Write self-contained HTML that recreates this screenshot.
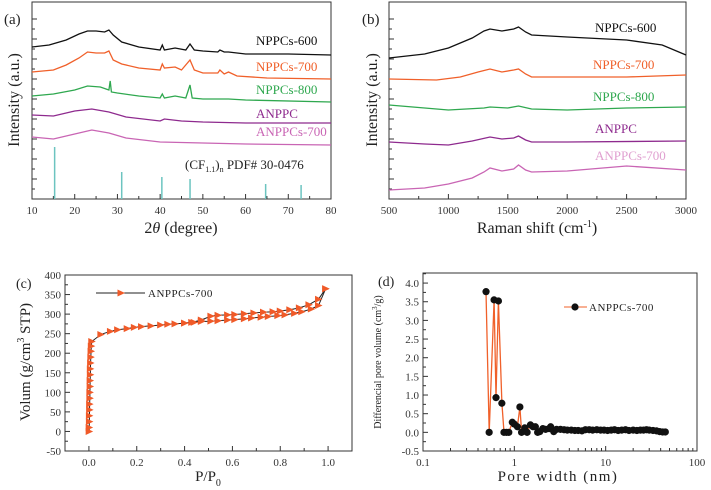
<!DOCTYPE html>
<html><head><meta charset="utf-8">
<style>
body{margin:0;background:#fff;}
svg{display:block;}
svg text{font-family:"Liberation Serif","Times New Roman",serif;}
</style></head>
<body>
<svg id="fig" width="711" height="490" viewBox="0 0 711 490" xmlns="http://www.w3.org/2000/svg" font-family="Liberation Serif, serif"></svg>
<script>
// ---------- Panel (a) XRD data ----------
const xrdTwoTheta600=[10,14,18,21,23,25,27,28,29,31,35,40,40.5,41,43.5,46,47,48,50,53.5,54,55,56,60,70,80];
const xrd600=[152,154,159,165,168,168,167,169,164,157,152,149,154,149,151,149,155,149,148,147,149,147,147,145,145,144];
const xrdTwoTheta700=[10,15,18,21,23,25,27,28,29,31,35,40,40.5,41,43.5,45,47,48,50,53.5,54,55,56,58,65,80];
const xrd700=[127,129,134,141,147,146,146,148,139,135,131,129,135,131,132,129,139,129,126,126,129,125,127,123,121,120];
const xrdTwoTheta800=[10,15,20,23,26,28,28.3,28.6,30,35,40,40.5,41,43.5,46,47,47.5,50,56,60,80];
const xrd800=[103,105,109,113,112,109,118,107,106,103,101,105,101,103,101,114,101,100,100,99,97];
const xrdTwoThetaA=[10,15,20,24,28,32,40,41,45,50,60,80];
const xrdA=[84,83,88,90,87,82,78,80,78,77,76,76];
const xrdTwoThetaA7=[10,15,20,24,28,32,40,50,60,80];
const xrdA7=[62,60,65,69,66,61,57,56,55,54];
const pdfPos=[15.3,31,40.4,47,64.7,73];
const pdfInt=[52,27,22,20,15,14];
const xTicksA=[10,20,30,40,50,60,70,80];

// ---------- Panel (b) Raman data ----------
const ramanX600=[500,800,1000,1200,1300,1350,1450,1550,1590,1650,1700,2000,2500,2800,3000];
const raman600=[141,145,151,161,168,170,168,170,172,167,164,162,159,154,144];
const ramanX700=[500,900,1100,1250,1350,1450,1550,1590,1650,1700,2000,2500,3000];
const raman700=[120,119,122,127,130,127,129,130,125,122,122,122,124];
const ramanX800=[500,700,1000,1300,1350,1500,1590,1700,2000,2500,3000];
const raman800=[94,92,89,91,92,91,93,90,89,91,92];
const ramanXA=[500,800,1000,1200,1350,1450,1550,1590,1650,1700,2000,3000];
const ramanA=[57,55,54,58,62,60,61,63,59,57,57,58];
const ramanXA7=[500,800,1000,1200,1300,1350,1450,1550,1590,1650,1700,2000,2500,3000];
const ramanA7=[9,11,15,21,27,31,28,30,34,29,27,28,33,29];
const xTicksB=[500,1000,1500,2000,2500,3000];

// ---------- Panel (c) isotherm ----------
const adsP=[0.001,0.001,0.002,0.002,0.003,0.003,0.004,0.004,0.005,0.005,0.006,0.006,0.007,0.008,0.009,0.01,0.012,0.05,0.09,0.12,0.16,0.19,0.22,0.26,0.30,0.33,0.36,0.40,0.44,0.47,0.51,0.54,0.58,0.61,0.65,0.68,0.72,0.75,0.79,0.82,0.86,0.89,0.93,0.96,0.99];
const adsV=[0,10,25,40,55,70,85,100,115,130,145,160,175,190,205,218,230,248,256,260,263,266,268,270,272,274,275,277,279,281,282,283,285,286,288,290,292,294,296,298,302,306,313,322,365];
const desP=[0.99,0.96,0.92,0.88,0.84,0.80,0.77,0.73,0.69,0.65,0.61,0.58,0.54,0.51,0.47,0.43,0.40];
const desV=[365,338,324,316,311,308,306,305,303,301,299,298,297,295,285,279,277];
const xTicksC=[0,0.2,0.4,0.6,0.8,1.0];
const yTicksC=[-50,0,50,100,150,200,250,300,350,400];

// ---------- Panel (d) pore size ----------
const poreW=[0.49,0.53,0.6,0.63,0.67,0.73,0.77,0.82,0.87,0.95,1.0,1.08,1.15,1.2,1.3,1.38,1.5,1.6,1.7,1.8,1.9,2.05,2.2,2.4,2.5,2.7,2.9,3.2,3.5,3.8,4.2,4.6,5,5.5,6,6.6,7.2,8,8.8,9.6,10.5,11.5,12.5,13.7,15,16.5,18,20,22,24,26,28,30,33,36,39,42,45];
const poreV=[3.77,0,3.55,0.93,3.52,0.78,0,0,0,0.27,0.22,0.15,0.68,0,0.12,0,0.2,0.15,0.15,0,0.02,0.1,0.08,0.1,0.15,0.02,0.08,0.08,0.07,0.06,0.06,0.05,0.05,0.04,0.07,0.07,0.06,0.07,0.06,0.06,0.05,0.06,0.07,0.05,0.06,0.07,0.05,0.06,0.05,0.06,0.06,0.07,0.06,0.05,0.04,0.02,0.01,0.01];
const xTicksD=[0.1,1,10,100];
const yTicksD=[-0.5,0,0.5,1,1.5,2,2.5,3,3.5,4];

const NS="http://www.w3.org/2000/svg";
const FONT='Liberation Serif, serif';
const svg=document.getElementById('fig');
function el(tag,attrs,parent,text){const e=document.createElementNS(NS,tag);for(const k in attrs)e.setAttribute(k,attrs[k]);if(tag==='text')e.setAttribute('font-family',FONT);if(text!==undefined)e.textContent=text;(parent||svg).appendChild(e);return e;}
function lin(d0,d1,r0,r1){return v=>r0+(v-d0)*(r1-r0)/(d1-d0);}
function logs(d0,d1,r0,r1){return v=>r0+(Math.log10(v)-Math.log10(d0))*(r1-r0)/(Math.log10(d1)-Math.log10(d0));}
function pathD(xs,ys,fx,fy){return xs.map((x,i)=>(i?'L':'M')+fx(x).toFixed(1)+','+fy(ys[i]).toFixed(1)).join('');}

function frame(g,L,R,T,B){
  const f=el('rect',{x:L,y:T,width:R-L,height:B-T,fill:'none',stroke:'#333','stroke-width':1},g);
  
  
}
function xTickMarks(g,ticks,fx,B,labels,minors){
  ticks.forEach((t,i)=>{
    const x=fx(t);
    const l=el('line',{x1:x,x2:x,y1:B,y2:B-5,stroke:'#333'},g);
    
    
    if(labels){const tx=el('text',{x:x,y:B+15,'font-size':11,'text-anchor':'middle',fill:'#333'},g,labels[i]);
      
      }
  });
  (minors||[]).forEach(t=>{const x=fx(t);el('line',{x1:x,x2:x,y1:B,y2:B-3,stroke:'#333'},g);});
}
function yTickMarks(g,ticks,fy,L,labels,minors){
  ticks.forEach((t,i)=>{
    const y=fy(t);
    const l=el('line',{x1:L,x2:L+5,y1:y,y2:y,stroke:'#333'},g);
    
    
    if(labels){const tx=el('text',{x:L-4,y:y+4,'font-size':11,'text-anchor':'end',fill:'#333'},g,labels[i]);
      
      }
  });
  (minors||[]).forEach(t=>{const y=fy(t);el('line',{x1:L,x2:L+3,y1:y,y2:y,stroke:'#333'},g);});
}
function series(g,xs,ys,fx,fy,color,name){
  const p=el('path',{d:pathD(xs,ys,fx,fy),fill:'none',stroke:color,'stroke-width':1.3},g);
  
  
}
function label(g,x,y,txt,color,size,name,anchor){
  const t=el('text',{x:x,y:y,'font-size':size,fill:color,'text-anchor':anchor||'start'},g,txt);
  
  
  return t;
}

// ===== Panel A =====
(function(){
  const g=el('g',{});
  
  
  const L=32,R=331,T=2,B=199;
  const fx=lin(10,80,L,R), fy=lin(0,197,B,T);
  frame(g,L,R,T,B);
  const minors=[];for(let v=15;v<80;v+=10)minors.push(v);
  xTickMarks(g,xTicksA,fx,B,xTicksA.map(String),minors);
  const yt=[];for(let v=20;v<197;v+=20)yt.push(v);
  yTickMarks(g,yt,fy,L,null,yt.map(v=>v-10));
  pdfPos.forEach((p,i)=>{const s=el('line',{x1:fx(p),x2:fx(p),y1:B,y2:fy(pdfInt[i]),stroke:'#6cc4c0','stroke-width':1.5},g);
    
    });
  series(g,xrdTwoTheta600,xrd600,fx,fy,'#111','series-nppcs-600');
  series(g,xrdTwoTheta700,xrd700,fx,fy,'#f0602a','series-nppcs-700');
  series(g,xrdTwoTheta800,xrd800,fx,fy,'#2fa84f','series-nppcs-800');
  series(g,xrdTwoThetaA,xrdA,fx,fy,'#8e2a8e','series-anppc');
  series(g,xrdTwoThetaA7,xrdA7,fx,fy,'#c965b4','series-anppcs-700');
  label(g,256,45,'NPPCs-600','#111',13,'legend-nppcs-600');
  label(g,256,71,'NPPCs-700','#f0602a',13,'legend-nppcs-700');
  label(g,256,94,'NPPCs-800','#2fa84f',13,'legend-nppcs-800');
  label(g,256,118,'ANPPC','#8e2a8e',13,'legend-anppc');
  label(g,256,136,'ANPPCs-700','#c965b4',13,'legend-anppcs-700');
  const t=label(g,185,169,'','#222',13,'pdf-label');
  t.innerHTML='(CF<tspan font-size="8" dy="3">1.1</tspan><tspan dy="-3">)</tspan><tspan font-size="8" dy="3">n</tspan><tspan dy="-3">  PDF# 30-0476</tspan>';
  label(g,4,24,'(a)','#222',15,'panel-label-a');
  const xt=label(g,181,233,'','#222',16,'x-axis-title-a','middle');
  xt.innerHTML='2<tspan font-style="italic">θ</tspan> (degree)';
  const yl=label(g,0,0,'Intensity (a.u.)','#222',16,'y-axis-title-a','middle');
  yl.setAttribute('transform','translate(19,100) rotate(-90)');
})();

// ===== Panel B =====
(function(){
  const g=el('g',{});
  
  
  const L=389,R=686,T=2,B=199;
  const fx=lin(500,3000,L,R), fy=lin(0,197,B,T);
  frame(g,L,R,T,B);
  const minors=[];for(let v=750;v<3000;v+=500)minors.push(v);
  xTickMarks(g,xTicksB,fx,B,xTicksB.map(String),minors);
  const yt=[];for(let v=20;v<197;v+=20)yt.push(v);
  yTickMarks(g,yt,fy,L,null,yt.map(v=>v-10));
  series(g,ramanX600,raman600,fx,fy,'#111','series-nppcs-600');
  series(g,ramanX700,raman700,fx,fy,'#f0602a','series-nppcs-700');
  series(g,ramanX800,raman800,fx,fy,'#2fa84f','series-nppcs-800');
  series(g,ramanXA,ramanA,fx,fy,'#8e2a8e','series-anppc');
  series(g,ramanXA7,ramanA7,fx,fy,'#c965b4','series-anppcs-700');
  label(g,595,32,'NPPCs-600','#111',13,'legend-nppcs-600');
  label(g,593,69,'NPPCs-700','#f0602a',13,'legend-nppcs-700');
  label(g,593,101,'NPPCs-800','#2fa84f',13,'legend-nppcs-800');
  label(g,595,133,'ANPPC','#8e2a8e',13,'legend-anppc');
  label(g,595,160,'ANPPCs-700','#e0a0d0',13,'legend-anppcs-700');
  label(g,362,24,'(b)','#222',15,'panel-label-b');
  const xt=label(g,537,233,'','#222',16,'x-axis-title-b','middle');
  xt.innerHTML='Raman shift (cm<tspan font-size="10" dy="-6">-1</tspan><tspan dy="6">)</tspan>';
  const yl=label(g,0,0,'Intensity (a.u.)','#222',16,'y-axis-title-b','middle');
  yl.setAttribute('transform','translate(377,100) rotate(-90)');
})();

// ===== Panel C =====
(function(){
  const g=el('g',{});
  
  
  const L=65,R=352,T=275,B=451;
  const fx=lin(-0.1,1.1,L,R), fy=lin(-50,400,B,T);
  frame(g,L,R,T,B);
  xTickMarks(g,xTicksC,fx,B,xTicksC.map(v=>v.toFixed(1)),[-0.1,0.1,0.3,0.5,0.7,0.9,1.1]);
  yTickMarks(g,yTicksC,fy,L,yTicksC.map(String),yTicksC.slice(0,-1).map(v=>v+25));
  const c='#f05a28';
  const tri=(x,y)=>`M${x-3.5},${y-3.5}L${x+4},${y}L${x-3.5},${y+3.5}Z`;
  el('path',{d:pathD(adsP,adsV,fx,fy),fill:'none',stroke:'#222','stroke-width':1},g);
  el('path',{d:pathD(desP,desV,fx,fy),fill:'none',stroke:'#222','stroke-width':1},g);
  adsP.forEach((p,i)=>{const m=el('path',{d:tri(fx(p),fy(adsV[i])),fill:c},g);
    
    });
  desP.forEach((p,i)=>{const m=el('path',{d:tri(fx(p),fy(desV[i])),fill:c},g);
    
    });
  el('line',{x1:96,x2:145,y1:293,y2:293,stroke:'#222'},g);
  el('path',{d:tri(121,293),fill:c},g);
  label(g,148,297,'ANPPCs-700','#222',11,'legend-anppcs-700').setAttribute('letter-spacing','0.5');
  label(g,16,288,'(c)','#222',14,'panel-label-c');
  const xt=label(g,208,481,'','#222',15,'x-axis-title-c','middle');
  xt.innerHTML='P/P<tspan font-size="10" dy="5">0</tspan>';
  const yl=label(g,0,0,'','#222',15,'y-axis-title-c','middle');
  yl.innerHTML='Volum (g/cm<tspan font-size="10" dy="-6">3</tspan><tspan dy="6"> STP)</tspan>';
  yl.setAttribute('transform','translate(30,362) rotate(-90)');
})();

// ===== Panel D =====
(function(){
  const g=el('g',{});
  
  
  const L=423,R=697,T=273,B=451;
  const fx=logs(0.1,100,L,R), fy=lin(-0.5,4.27,B,T);
  frame(g,L,R,T,B);
  const minors=[];[0.1,1,10].forEach(d=>{for(let k=2;k<10;k++)minors.push(d*k);});
  xTickMarks(g,xTicksD,fx,B,['0.1','1','10','100'],minors);
  yTickMarks(g,yTicksD,fy,L,yTicksD.map(v=>v.toFixed(1)),yTicksD.map(v=>v+0.25));
  series(g,poreW,poreV,fx,fy,'#f0602a','pore-distribution-line');
  poreW.forEach((w,i)=>{const m=el('circle',{cx:fx(w),cy:fy(poreV[i]),r:3.6,fill:'#111'},g);
    
    });
  el('line',{x1:564,x2:587,y1:307,y2:307,stroke:'#f0602a'},g);
  el('circle',{cx:575,cy:307,r:3.6,fill:'#111'},g);
  label(g,589,311,'ANPPCs-700','#222',11,'legend-anppcs-700').setAttribute('letter-spacing','0.5');
  label(g,378,286,'(d)','#222',14,'panel-label-d');
  const xt=label(g,558,481,'Pore width (nm)','#222',15,'x-axis-title-d','middle');
  xt.setAttribute('letter-spacing','1.5');
  const yl=label(g,0,0,'','#222',10,'y-axis-title-d','middle');
  yl.innerHTML='Differencial pore volume (cm<tspan font-size="7" dy="-4">3</tspan><tspan dy="4">/g)</tspan>';
  yl.setAttribute('transform','translate(381,362) rotate(-90)');
})();
</script>
</body></html>
